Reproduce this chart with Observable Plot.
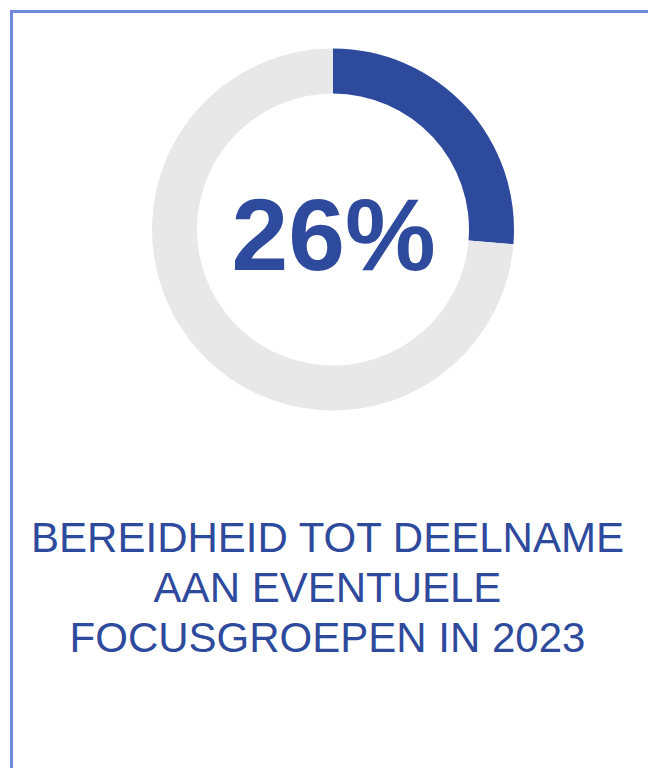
<!DOCTYPE html>
<html>
<head>
<meta charset="utf-8">
<script src="https://cdn.jsdelivr.net/npm/d3@7"></script>
<script src="https://cdn.jsdelivr.net/npm/@observablehq/plot@0.6"></script>
<style>
  html, body { margin: 0; padding: 0; background: #fff; width: 648px; height: 768px; overflow: hidden; }
  #frame { position: absolute; left: 10px; top: 10px; width: 648px; height: 768px;
           border-left: 3px solid #7189dc; border-top: 3px solid #7189dc; }
  #chart { position: absolute; left: 0; top: 0; }
</style>
</head>
<body>
<div id="frame"></div>
<div id="chart"></div>
<script>
// Data
const segmentLabels = ["Bereid", "Niet bereid"];
const segmentValues = [26.3, 73.7];
const segmentColors = ["#2e4a9c", "#e8e8e8"];
const titleLines = ["BEREIDHEID TOT DEELNAME", "AAN EVENTUELE", "FOCUSGROEPEN IN 2023"];

const segments = segmentLabels.map((label, i) => ({label, value: segmentValues[i], color: segmentColors[i]}));
const pctText = `${Math.round(segmentValues[0])}%`;

// Layout
const W = 648, H = 768;
const cx = 333, cy = 229.5, rOuter = 181, rInner = 136;
const blue = "#2e4a9c";

function donutMark(index, scales, values, dimensions, context) {
  const pie = d3.pie().value(d => d.value).sort(null)(segments);
  const arc = d3.arc().innerRadius(rInner).outerRadius(rOuter);
  const g = d3.create("svg:g").attr("transform", `translate(${scales.x(cx)},${scales.y(cy)})`);
  g.selectAll("path")
    .data(pie)
    .join("path")
    .attr("d", arc)
    .attr("fill", d => d.data.color);
  return g.node();
}

const chart = Plot.plot({
  width: W,
  height: H,
  margin: 0,
  style: {background: "transparent", overflow: "visible"},
  x: {type: "identity", axis: null},
  y: {type: "identity", axis: null},
  marks: [
    donutMark,
    Plot.text([pctText], {
      x: () => cx,
      y: () => 269 - 0.32 * 102,
      text: d => d,
      fontSize: 102,
      fontWeight: "bold",
      fontFamily: "Liberation Sans, Arial, sans-serif",
      fill: blue,
      textAnchor: "middle",
      lineAnchor: "middle",
      style: "letter-spacing:-2px"
    }),
    Plot.text(titleLines, {
      x: () => 327,
      y: (d, i) => 551 + i * 50 - 0.32 * 42,
      text: d => d,
      fontSize: 42,
      fontFamily: "Liberation Sans, Arial, sans-serif",
      fill: blue,
      textAnchor: "middle",
      lineAnchor: "middle"
    })
  ]
});
document.getElementById("chart").appendChild(chart);
</script>
</body>
</html>
